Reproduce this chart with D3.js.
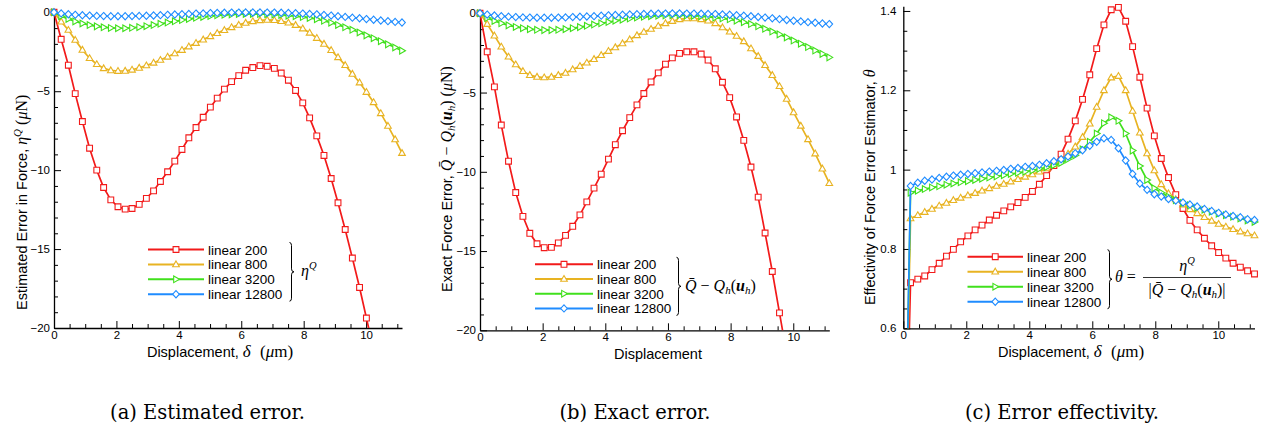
<!DOCTYPE html>
<html>
<head>
<meta charset="utf-8">
<script src="https://cdn.jsdelivr.net/npm/d3@7"></script>
<style>
  body { margin: 0; background: #fff; }
  svg { display: block; }
</style>
</head>
<body>
<div id="chart"></div>
<script>
// displacement samples (same grid for every series)
const xs = [0, 0.23, 0.46, 0.68, 0.91, 1.14, 1.37, 1.59, 1.82, 2.05,
            2.28, 2.50, 2.73, 2.96, 3.19, 3.41, 3.64, 3.87, 4.10, 4.32,
            4.55, 4.78, 5.01, 5.23, 5.46, 5.69, 5.92, 6.14, 6.37, 6.60,
            6.83, 7.06, 7.28, 7.51, 7.74, 7.97, 8.19, 8.42, 8.65, 8.88,
            9.10, 9.33, 9.56, 9.79, 10.01, 10.24, 10.47, 10.70, 10.93, 11.15];

const seriesNames = ["linear 200", "linear 800", "linear 3200", "linear 12800"];

// (a) estimated error eta^Q
const estRed = [0, -1.71, -3.35, -5.15, -6.92, -8.61, -10.0, -11.1, -11.88, -12.32,
                -12.47, -12.43, -12.17, -11.79, -11.31, -10.72, -10.1, -9.43, -8.69, -7.95,
                -7.3, -6.65, -6.01, -5.44, -4.87, -4.39, -4.01, -3.67, -3.5, -3.38,
                -3.42, -3.55, -3.85, -4.3, -4.95, -5.74, -6.69, -7.83, -9.07, -10.53,
                -12.07, -13.76, -15.57, -17.43, -19.37, -21.4, -23.5, -25.7, -28.0, -30.4];
const estYellow = [0, -0.59, -1.12, -1.75, -2.38, -2.91, -3.29, -3.55, -3.68, -3.72,
                   -3.71, -3.64, -3.52, -3.37, -3.2, -3.02, -2.82, -2.61, -2.39, -2.17,
                   -1.95, -1.73, -1.52, -1.32, -1.13, -0.95, -0.8, -0.67, -0.57, -0.51,
                   -0.48, -0.5, -0.56, -0.66, -0.81, -1.03, -1.3, -1.63, -2.0, -2.4,
                   -2.85, -3.35, -3.9, -4.45, -5.05, -5.7, -6.4, -7.2, -8.05, -8.92];
const estGreen = [0, -0.25, -0.42, -0.58, -0.71, -0.81, -0.89, -0.95, -0.99, -1.01,
                  -1.01, -0.98, -0.94, -0.88, -0.81, -0.73, -0.65, -0.57, -0.49, -0.42,
                  -0.35, -0.29, -0.24, -0.19, -0.16, -0.13, -0.11, -0.1, -0.1, -0.11,
                  -0.12, -0.14, -0.17, -0.21, -0.25, -0.3, -0.36, -0.44, -0.54, -0.66,
                  -0.8, -0.95, -1.11, -1.28, -1.46, -1.64, -1.83, -2.03, -2.23, -2.43];
const estBlue = [0, -0.07, -0.12, -0.16, -0.19, -0.21, -0.23, -0.24, -0.25, -0.25,
                 -0.25, -0.24, -0.23, -0.22, -0.2, -0.18, -0.16, -0.14, -0.12, -0.1,
                 -0.08, -0.07, -0.05, -0.04, -0.03, -0.02, -0.02, -0.01, -0.01, -0.01,
                 -0.02, -0.02, -0.03, -0.04, -0.06, -0.08, -0.1, -0.13, -0.17, -0.21,
                 -0.25, -0.29, -0.34, -0.38, -0.43, -0.47, -0.52, -0.56, -0.61, -0.65];

// (b) exact error Qbar - Q_h(u_h)
const exRed = [0, -2.43, -4.64, -7.05, -9.33, -11.31, -12.81, -13.88, -14.54, -14.79,
               -14.77, -14.49, -14.01, -13.44, -12.72, -11.9, -11.03, -10.15, -9.2, -8.29,
               -7.41, -6.58, -5.78, -5.06, -4.33, -3.76, -3.21, -2.81, -2.53, -2.43,
               -2.43, -2.57, -2.95, -3.5, -4.35, -5.32, -6.54, -8.02, -9.7, -11.6,
               -13.86, -16.29, -18.9, -21.5, -24.2, -27.0, -29.9, -32.9, -36.0, -39.2];
const exYellow = [0, -0.68, -1.41, -2.11, -2.74, -3.23, -3.65, -3.9, -4.01, -4.05,
                  -4.01, -3.9, -3.76, -3.54, -3.33, -3.12, -2.89, -2.64, -2.38, -2.15,
                  -1.9, -1.65, -1.39, -1.18, -0.99, -0.8, -0.63, -0.49, -0.38, -0.32,
                  -0.32, -0.38, -0.47, -0.63, -0.89, -1.16, -1.43, -1.77, -2.22, -2.7,
                  -3.27, -3.9, -4.6, -5.4, -6.25, -7.1, -7.95, -8.85, -9.8, -10.72];
const exGreen = [0, -0.3, -0.48, -0.63, -0.76, -0.86, -0.94, -1.0, -1.04, -1.06,
                 -1.06, -1.04, -1.0, -0.94, -0.87, -0.79, -0.71, -0.63, -0.55, -0.47,
                 -0.4, -0.33, -0.27, -0.22, -0.18, -0.15, -0.13, -0.12, -0.12, -0.13,
                 -0.15, -0.18, -0.22, -0.27, -0.32, -0.38, -0.46, -0.56, -0.68, -0.82,
                 -0.98, -1.15, -1.33, -1.52, -1.72, -1.92, -2.13, -2.35, -2.56, -2.78];
const exBlue = [0, -0.08, -0.14, -0.18, -0.21, -0.24, -0.26, -0.27, -0.28, -0.28,
                -0.28, -0.27, -0.26, -0.24, -0.22, -0.2, -0.18, -0.15, -0.13, -0.11,
                -0.09, -0.07, -0.06, -0.04, -0.03, -0.02, -0.02, -0.01, -0.01, -0.02,
                -0.02, -0.03, -0.04, -0.05, -0.07, -0.09, -0.12, -0.15, -0.19, -0.23,
                -0.27, -0.32, -0.37, -0.42, -0.47, -0.51, -0.56, -0.6, -0.64, -0.68];

// (c) effectivity theta
const effRed = [0, 0.715, 0.724, 0.732, 0.748, 0.764, 0.782, 0.799, 0.818, 0.833,
                0.848, 0.86, 0.873, 0.885, 0.896, 0.906, 0.917, 0.93, 0.945, 0.963,
                0.985, 1.01, 1.039, 1.077, 1.123, 1.177, 1.239, 1.305, 1.365, 1.403,
                1.409, 1.374, 1.31, 1.233, 1.155, 1.085, 1.028, 0.98, 0.937, 0.902,
                0.872, 0.848, 0.827, 0.808, 0.791, 0.777, 0.764, 0.754, 0.745, 0.737];
const effYellow = [0, 0.877, 0.885, 0.893, 0.901, 0.909, 0.916, 0.923, 0.929, 0.935,
                   0.941, 0.947, 0.953, 0.959, 0.964, 0.97, 0.976, 0.982, 0.988, 0.995,
                   1.003, 1.013, 1.025, 1.04, 1.058, 1.082, 1.116, 1.158, 1.2, 1.232,
                   1.236, 1.2, 1.148, 1.093, 1.041, 0.998, 0.963, 0.94, 0.925, 0.912,
                   0.9, 0.89, 0.88, 0.871, 0.863, 0.856, 0.85, 0.844, 0.839, 0.834];
const effGreen = [0, 0.942, 0.947, 0.951, 0.955, 0.958, 0.962, 0.965, 0.968, 0.971,
                  0.974, 0.977, 0.98, 0.983, 0.986, 0.989, 0.992, 0.995, 0.998, 1.002,
                  1.006, 1.011, 1.017, 1.026, 1.036, 1.051, 1.07, 1.091, 1.117, 1.132,
                  1.123, 1.091, 1.048, 1.009, 0.974, 0.953, 0.942, 0.932, 0.923, 0.916,
                  0.91, 0.904, 0.899, 0.894, 0.889, 0.885, 0.881, 0.877, 0.872, 0.868];
const effBlue = [0, 0.959, 0.967, 0.972, 0.975, 0.979, 0.982, 0.985, 0.987, 0.989,
                 0.991, 0.993, 0.995, 0.997, 0.999, 1.002, 1.004, 1.007, 1.009, 1.012,
                 1.016, 1.021, 1.026, 1.033, 1.041, 1.049, 1.06, 1.07, 1.079, 1.075,
                 1.054, 1.023, 0.989, 0.965, 0.949, 0.938, 0.932, 0.926, 0.922, 0.917,
                 0.912, 0.907, 0.901, 0.896, 0.891, 0.887, 0.883, 0.88, 0.875, 0.873];

// tick labels
const xTicks = [0, 2, 4, 6, 8, 10];
const errTicks = [0, -5, -10, -15, -20];
const effTicks = [0.6, 0.8, 1, 1.2, 1.4];

const colors = ["#f21a1a", "#e8b322", "#40e01c", "#1f8cff"];
const SANS = "'Liberation Sans', Arial, Helvetica, sans-serif";
const SERIF = "'Liberation Serif', 'Times New Roman', serif";
const CAPTION_FONT = "'DejaVu Serif', serif";

const width = 1262, height = 428;
const svg = d3.select("#chart").append("svg")
    .attr("width", width)
    .attr("height", height);

// marker shapes, r = half size
function markerPath(kind, r) {
    if (kind === 0) return `M${-r},${-r}H${r}V${r}H${-r}Z`;
    if (kind === 1) return `M0,${-r * 1.2}L${r * 1.15},${r * 0.8}L${-r * 1.15},${r * 0.8}Z`;
    if (kind === 2) return `M${r * 1.2},0L${-r * 0.8},${-r * 1.15}L${-r * 0.8},${r * 1.15}Z`;
    return `M0,${-r * 1.25}L${r * 1.15},0L0,${r * 1.25}L${-r * 1.15},0Z`;
}

// text made of pieces (sans / serif italic / sub / sup)
function richText(parent, x, y, parts, attrs = {}) {
    const t = parent.append("text")
        .attr("x", x).attr("y", y)
        .attr("font-family", SANS)
        .attr("font-size", 14.5)
        .attr("fill", "#000");
    Object.entries(attrs).forEach(([k, v]) => t.attr(k, v));
    let shift = 0;
    parts.forEach(p => {
        const s = p.shift || 0;
        const ts = t.append("tspan").text(p.t);
        if (s !== shift) ts.attr("dy", s - shift);
        shift = s;
        if (p.dx) ts.attr("dx", p.dx);
        if (p.serif) ts.attr("font-family", SERIF);
        if (p.it) ts.attr("font-style", "italic");
        if (p.b) ts.attr("font-weight", "bold");
        if (p.size) ts.attr("font-size", p.size);
    });
    return t;
}

function brace(parent, x, y0, y1) {
    const ym = (y0 + y1) / 2;
    parent.append("path")
        .attr("d", `M${x - 2},${y0} Q${x},${y0} ${x},${y0 + 3} L${x},${ym - 3} Q${x},${ym} ${x + 2.5},${ym}` +
                   ` Q${x},${ym} ${x},${ym + 3} L${x},${y1 - 3} Q${x},${y1} ${x - 2},${y1}`)
        .attr("fill", "none")
        .attr("stroke", "#000")
        .attr("stroke-width", 1);
}

function drawPanel(cfg) {
    const g = svg.append("g");
    const x = d3.scaleLinear().domain([0, 11.15]).range([cfg.left, cfg.right]);
    const y = d3.scaleLinear().domain(cfg.yDomain).range([cfg.bottom, cfg.top]);

    const clipId = "clip-" + cfg.id;
    svg.append("defs").append("clipPath").attr("id", clipId)
        .append("rect")
        .attr("x", cfg.left).attr("y", cfg.top - 1)
        .attr("width", cfg.right - cfg.left + 1)
        .attr("height", cfg.bottom - cfg.top + 1);

    // minor ticks
    const xMinor = d3.range(0, 11.01, 0.5).filter(v => !xTicks.includes(v));
    g.append("g")
        .attr("transform", `translate(0,${cfg.bottom})`)
        .call(d3.axisBottom(x).tickValues(xMinor).tickSize(-4).tickFormat(""))
        .call(a => a.select(".domain").remove());
    g.append("g")
        .attr("transform", `translate(${cfg.left},0)`)
        .call(d3.axisLeft(y).tickValues(cfg.yMinor).tickSize(-4).tickFormat(""))
        .call(a => a.select(".domain").remove());

    // major ticks + labels
    const xAxis = g.append("g")
        .attr("transform", `translate(0,${cfg.bottom})`)
        .call(d3.axisBottom(x).tickValues(xTicks).tickSize(-7).tickSizeOuter(0).tickPadding(3));
    const yAxis = g.append("g")
        .attr("transform", `translate(${cfg.left},0)`)
        .call(d3.axisLeft(y).tickValues(cfg.yTicks).tickSize(-7).tickSizeOuter(0)
            .tickPadding(cfg.yPad).tickFormat(cfg.yFormat));
    [xAxis, yAxis].forEach(a => {
        a.selectAll("text").attr("font-family", SANS).attr("font-size", 11.5).attr("fill", "#000");
        a.select(".domain").attr("stroke-width", 1.3);
    });
    g.selectAll(".tick line").attr("stroke", "#000");

    // series
    const line = d3.line().x((d, i) => x(xs[i])).y(d => y(d));
    const lo = Math.min(...cfg.yDomain) - 0.002 * Math.abs(cfg.yDomain[1] - cfg.yDomain[0]);
    const hi = Math.max(...cfg.yDomain) + 0.01 * Math.abs(cfg.yDomain[1] - cfg.yDomain[0]);
    cfg.series.forEach((vals, k) => {
        g.append("path")
            .datum(vals)
            .attr("clip-path", `url(#${clipId})`)
            .attr("d", line)
            .attr("fill", "none")
            .attr("stroke", colors[k])
            .attr("stroke-width", 1.7);
        const pts = vals.map((v, i) => ({x: xs[i], v})).filter(p => p.v >= lo && p.v <= hi);
        g.append("g").selectAll("path")
            .data(pts)
            .enter().append("path")
            .attr("transform", p => `translate(${x(p.x)},${y(p.v)})`)
            .attr("d", markerPath(k, 2.9))
            .attr("fill", "#fff")
            .attr("stroke", colors[k])
            .attr("stroke-width", 1.1);
    });

    // axis titles (y title runs upward from its bottom end)
    richText(g, cfg.xLabelX, cfg.bottom + 29, cfg.xLabel, {"text-anchor": "middle"});
    const yl = richText(g, 0, 0, cfg.yLabel, {"text-anchor": "start"});
    yl.attr("transform", `translate(${cfg.yLabelX},${cfg.yLabelStart}) rotate(-90)`);

    // legend
    const L = cfg.legend;
    seriesNames.forEach((name, k) => {
        const ry = L.y0 + k * L.dy;
        g.append("line")
            .attr("x1", L.x0).attr("x2", L.x1).attr("y1", ry).attr("y2", ry)
            .attr("stroke", colors[k]).attr("stroke-width", 2);
        g.append("path")
            .attr("transform", `translate(${(L.x0 + L.x1) / 2},${ry})`)
            .attr("d", markerPath(k, 2.9))
            .attr("fill", "#fff")
            .attr("stroke", colors[k])
            .attr("stroke-width", 1.1);
        g.append("text")
            .attr("x", L.x1 + 4).attr("y", ry + 5)
            .attr("font-family", SANS).attr("font-size", 13.5)
            .text(name);
    });
    brace(g, L.brace, L.y0 - 7, L.y0 + 3 * L.dy + 7);

    // caption
    g.append("text")
        .attr("x", cfg.captionX).attr("y", 419)
        .attr("text-anchor", "middle")
        .attr("font-family", CAPTION_FONT)
        .attr("font-size", 19.5)
        .text(cfg.caption);
    return g;
}

const deltaLabel = [
    {t: "Displacement, "}, {t: "δ", serif: true, it: true, size: 17},
    {t: "  (", serif: true, size: 17, dx: 5}, {t: "μ", serif: true, it: true, size: 17},
    {t: "m)", serif: true, size: 17}
];

const ga = drawPanel({
    id: "a", left: 54, right: 402, top: 12.3, bottom: 328,
    yDomain: [-20, 0], yTicks: errTicks, yMinor: d3.range(-19, 0, 1).filter(v => v % 5 !== 0),
    yFormat: d3.format("d"), yPad: 4,
    series: [estRed, estYellow, estGreen, estBlue],
    xLabel: deltaLabel, xLabelX: 220,
    yLabel: [
        {t: "Estimated Error in Force, "}, {t: "η", serif: true, it: true, size: 16},
        {t: "Q", serif: true, it: true, size: 11, shift: -6},
        {t: "  (", serif: true, size: 16}, {t: "μ", serif: true, it: true, size: 16},
        {t: "N)", serif: true, size: 16}
    ],
    yLabelX: 26.5, yLabelStart: 310,
    legend: {x0: 148, x1: 204, y0: 249.5, dy: 14.9, brace: 291.5},
    captionX: 207.5, caption: "(a) Estimated error."
});
richText(ga, 301, 276, [
    {t: "η", serif: true, it: true, size: 16},
    {t: "Q", serif: true, it: true, size: 10.5, shift: -7}
]);

const gb = drawPanel({
    id: "b", left: 480, right: 829.3, top: 13.3, bottom: 330.3,
    yDomain: [-20, 0], yTicks: errTicks, yMinor: d3.range(-19, 0, 1).filter(v => v % 5 !== 0),
    yFormat: d3.format("d"), yPad: 4,
    series: [exRed, exYellow, exGreen, exBlue],
    xLabel: [{t: "Displacement"}], xLabelX: 658,
    yLabel: [
        {t: "Exact Force Error,  "}, {t: "Q\u0304", serif: true, it: true, size: 16},
        {t: " − ", serif: true, size: 16}, {t: "Q", serif: true, it: true, size: 16},
        {t: "h", serif: true, it: true, size: 11, shift: 3},
        {t: "(", serif: true, size: 16}, {t: "u", serif: true, it: true, b: true, size: 16},
        {t: "h", serif: true, it: true, size: 11, shift: 3},
        {t: ")   (", serif: true, size: 16}, {t: "μ", serif: true, it: true, size: 16},
        {t: "N)", serif: true, size: 16}
    ],
    yLabelX: 451.5, yLabelStart: 292,
    legend: {x0: 535, x1: 593, y0: 264.3, dy: 14.7, brace: 678.5},
    captionX: 635, caption: "(b) Exact error."
});
richText(gb, 685, 291, [
    {t: "Q\u0304", serif: true, it: true, size: 16},
    {t: " − ", serif: true, size: 16}, {t: "Q", serif: true, it: true, size: 16},
    {t: "h", serif: true, it: true, size: 11, shift: 3},
    {t: "(", serif: true, size: 16}, {t: "u", serif: true, it: true, b: true, size: 16},
    {t: "h", serif: true, it: true, size: 11, shift: 3},
    {t: ")", serif: true, size: 16}
]);

const gc = drawPanel({
    id: "c", left: 903.3, right: 1254.5, top: 6.2, bottom: 328.3,
    yDomain: [0.6, 1.412], yTicks: effTicks,
    yMinor: d3.range(0.65, 1.41, 0.05).map(v => +v.toFixed(2)).filter(v => Math.round(v * 100) % 20 !== 0),
    yFormat: d => String(d), yPad: 7,
    series: [effRed, effYellow, effGreen, effBlue],
    xLabel: deltaLabel, xLabelX: 1071,
    yLabel: [
        {t: "Effectivity of Force Error Estimator,  "}, {t: "θ", serif: true, it: true, size: 16}
    ],
    yLabelX: 874.5, yLabelStart: 305,
    legend: {x0: 967.5, x1: 1023, y0: 256.7, dy: 15, brace: 1109.5},
    captionX: 1062, caption: "(c) Error effectivity."
});
richText(gc, 1115, 282, [
    {t: "θ", serif: true, it: true, size: 16}, {t: " = ", serif: true, size: 16}
]);
richText(gc, 1187, 271, [
    {t: "η", serif: true, it: true, size: 16},
    {t: "Q", serif: true, it: true, size: 10.5, shift: -7}
], {"text-anchor": "middle"});
gc.append("line")
    .attr("x1", 1143).attr("x2", 1231).attr("y1", 277.5).attr("y2", 277.5)
    .attr("stroke", "#000").attr("stroke-width", 0.8);
richText(gc, 1187, 295, [
    {t: "|", serif: true, size: 16},
    {t: "Q\u0304", serif: true, it: true, size: 16},
    {t: " − ", serif: true, size: 16}, {t: "Q", serif: true, it: true, size: 16},
    {t: "h", serif: true, it: true, size: 11, shift: 3},
    {t: "(", serif: true, size: 16}, {t: "u", serif: true, it: true, b: true, size: 16},
    {t: "h", serif: true, it: true, size: 11, shift: 3},
    {t: ")|", serif: true, size: 16}
], {"text-anchor": "middle"});
</script>
</body>
</html>
